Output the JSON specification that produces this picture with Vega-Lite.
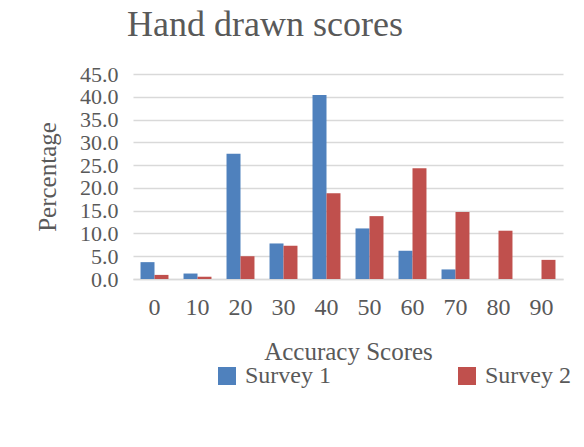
{
  "$schema": "https://vega.github.io/schema/vega-lite/v6.json",
  "width": 430,
  "height": 205,
  "autosize": {"type": "none"},
  "padding": {"left": 133, "top": 74, "right": 21, "bottom": 168},
  "background": "white",
  "title": {
    "text": "Hand drawn scores",
    "font": "Liberation Serif",
    "fontSize": 36,
    "fontWeight": "normal",
    "color": "#595959",
    "anchor": "middle",
    "dx": -83,
    "offset": 19
  },
  "data": {
    "values": [
      {"score": "0", "series": "Survey 1", "pct": 3.7},
      {"score": "0", "series": "Survey 2", "pct": 0.9},
      {"score": "10", "series": "Survey 1", "pct": 1.2},
      {"score": "10", "series": "Survey 2", "pct": 0.5},
      {"score": "20", "series": "Survey 1", "pct": 27.5},
      {"score": "20", "series": "Survey 2", "pct": 5.0},
      {"score": "30", "series": "Survey 1", "pct": 7.8},
      {"score": "30", "series": "Survey 2", "pct": 7.3},
      {"score": "40", "series": "Survey 1", "pct": 40.4},
      {"score": "40", "series": "Survey 2", "pct": 18.8},
      {"score": "50", "series": "Survey 1", "pct": 11.1},
      {"score": "50", "series": "Survey 2", "pct": 13.8},
      {"score": "60", "series": "Survey 1", "pct": 6.2},
      {"score": "60", "series": "Survey 2", "pct": 24.3},
      {"score": "70", "series": "Survey 1", "pct": 2.1},
      {"score": "70", "series": "Survey 2", "pct": 14.7},
      {"score": "80", "series": "Survey 1", "pct": 0},
      {"score": "80", "series": "Survey 2", "pct": 10.6},
      {"score": "90", "series": "Survey 1", "pct": 0},
      {"score": "90", "series": "Survey 2", "pct": 4.2}
    ]
  },
  "mark": {"type": "bar"},
  "encoding": {
    "x": {
      "field": "score",
      "type": "ordinal",
      "sort": ["0", "10", "20", "30", "40", "50", "60", "70", "80", "90"],
      "scale": {"paddingInner": 0.35, "paddingOuter": 0.175},
      "axis": {
        "title": "Accuracy Scores",
        "labelAngle": 0,
        "ticks": false,
        "domainColor": "#d9d9d9",
        "domainWidth": 1.5,
        "labelFont": "Liberation Serif",
        "labelFontSize": 24,
        "labelColor": "#595959",
        "labelPadding": 16,
        "titleFont": "Liberation Serif",
        "titleFontSize": 25,
        "titleFontWeight": "normal",
        "titleColor": "#595959",
        "titlePadding": 20
      }
    },
    "xOffset": {"field": "series", "type": "nominal"},
    "y": {
      "field": "pct",
      "type": "quantitative",
      "scale": {"domain": [0, 45]},
      "axis": {
        "title": "Percentage",
        "values": [0, 5, 10, 15, 20, 25, 30, 35, 40, 45],
        "format": ".1f",
        "labelOverlap": false,
        "domain": false,
        "ticks": false,
        "gridColor": "#d9d9d9",
        "gridWidth": 1.5,
        "labelFont": "Liberation Serif",
        "labelFontSize": 22,
        "labelColor": "#595959",
        "labelPadding": 15,
        "titleFont": "Liberation Serif",
        "titleFontSize": 25,
        "titleFontWeight": "normal",
        "titleColor": "#595959",
        "titlePadding": 19
      }
    },
    "color": {
      "field": "series",
      "type": "nominal",
      "scale": {"domain": ["Survey 1", "Survey 2"], "range": ["#4F81BD", "#C0504D"]},
      "legend": {
        "title": null,
        "orient": "none",
        "legendX": 82,
        "legendY": 290,
        "direction": "horizontal",
        "columns": 2,
        "columnPadding": 124,
        "symbolType": "square",
        "symbolSize": 324,
        "symbolStrokeWidth": 0,
        "labelOffset": 6,
        "labelFont": "Liberation Serif",
        "labelFontSize": 24,
        "labelColor": "#595959"
      }
    }
  },
  "config": {"view": {"stroke": null}}
}
